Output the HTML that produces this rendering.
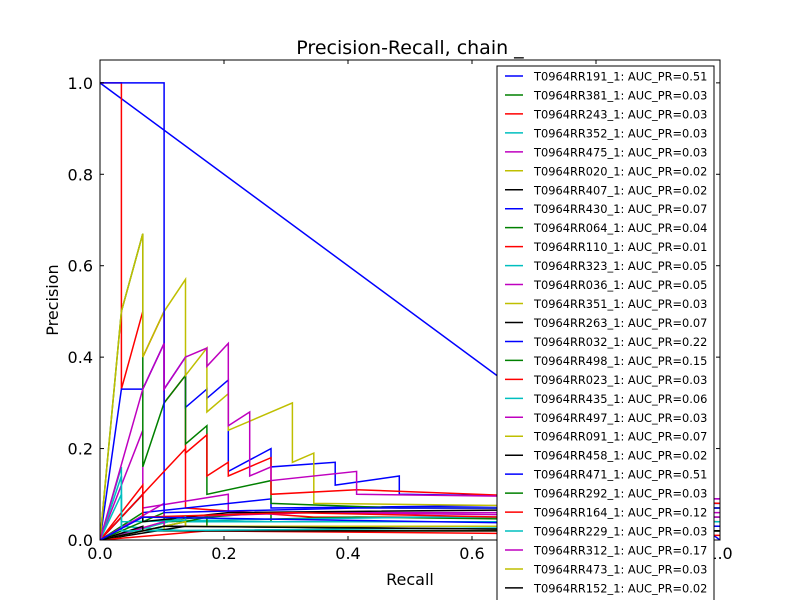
<!DOCTYPE html>
<html><head><meta charset="utf-8"><style>
body{margin:0;background:#fff;}
svg{font-family:"DejaVu Sans","Liberation Sans",sans-serif;}
</style></head><body>
<svg id="chart" width="800" height="600" viewBox="0 0 800 600" xmlns="http://www.w3.org/2000/svg">
<rect x="0" y="0" width="800" height="600" fill="#fff"/>
<text x="410" y="54" font-size="19" text-anchor="middle">Precision-Recall, chain _</text>
<defs><clipPath id="pc"><rect x="100" y="60" width="620" height="480"/></clipPath></defs>
<g id="series" clip-path="url(#pc)"></g>
<rect x="100" y="60" width="620" height="480" fill="none" stroke="#000" stroke-width="1"/>
<g id="axes"></g>
<text x="410" y="585" font-size="16" text-anchor="middle">Recall</text>
<text x="58" y="300" font-size="16" text-anchor="middle" transform="rotate(-90 58 300)">Precision</text>
<g id="legend"></g>
</svg>
<script>
const names=["T0964RR191_1","T0964RR381_1","T0964RR243_1","T0964RR352_1","T0964RR475_1","T0964RR020_1","T0964RR407_1","T0964RR430_1","T0964RR064_1","T0964RR110_1","T0964RR323_1","T0964RR036_1","T0964RR351_1","T0964RR263_1","T0964RR032_1","T0964RR498_1","T0964RR023_1","T0964RR435_1","T0964RR497_1","T0964RR091_1","T0964RR458_1","T0964RR471_1","T0964RR292_1","T0964RR164_1","T0964RR229_1","T0964RR312_1","T0964RR473_1","T0964RR152_1","T0964RR091_1"];
const aucs=["0.51","0.03","0.03","0.03","0.03","0.02","0.02","0.07","0.04","0.01","0.05","0.05","0.03","0.07","0.22","0.15","0.03","0.06","0.03","0.07","0.02","0.51","0.03","0.12","0.03","0.17","0.03","0.02","0.03"];
const palette=["#0000ff","#008000","#ff0000","#00bfbf","#bf00bf","#bfbf00","#000000"];
// points: [recall index (of 29), precision]
const s0=[[0,1],[29,0]];
const s1=[[0,0],[2,0.06],[2,0.04],[8,0.06],[8,0.04],[29,0.04]];
const s2=[[0,1],[1,1],[1,0.33],[2,0.5],[2,0.4],[3,0.5],[3,0.3],[4,0.36],[4,0.07],[10,0.05],[29,0.05]];
const s3=[[0,0],[1,0.16],[1,0.03],[4,0.02],[29,0.02]];
const s4=[[0,0],[2,0.24],[2,0.07],[6,0.1],[6,0.06],[29,0.06]];
const s5=[[0,0],[3,0.04],[3,0.02],[29,0.02]];
const s6=[[0,0],[4,0.03],[29,0.02]];
const s7=[[0,0],[2,0.1],[2,0.06],[8,0.09],[8,0.07],[29,0.08]];
const s8=[[0,0],[3,0.06],[3,0.04],[12,0.05],[29,0.04]];
const s9=[[0,0],[5,0.02],[29,0.01]];
const s10=[[0,0],[1,0.14],[1,0.04],[15,0.05],[29,0.05]];
const s11=[[0,0],[3,0.08],[3,0.05],[10,0.06],[29,0.05]];
const s12=[[0,0],[4,0.05],[4,0.03],[29,0.03]];
const s13=[[0,0],[2,0.1],[2,0.04],[6,0.06],[29,0.07]];
const s14=[[0,0],[1,0.33],[2,0.33],[3,0.43],[3,0.33],[4,0.4],[4,0.29],[5,0.33],[5,0.31],[6,0.35],[6,0.15],[8,0.2],[8,0.16],[11,0.17],[11,0.12],[14,0.14],[14,0.1],[29,0.09]];
const s15=[[0,0],[1,0.5],[2,0.67],[2,0.16],[3,0.3],[4,0.36],[4,0.21],[5,0.25],[5,0.1],[8,0.13],[8,0.08],[14,0.07],[29,0.07]];
const s16=[[0,0],[2,0.12],[2,0.05],[9,0.06],[29,0.04]];
const s17=[[0,0],[4,0.05],[4,0.04],[29,0.04]];
const s18=[[0,0],[3,0.04],[3,0.03],[29,0.03]];
const s19=[[0,0],[1,0.5],[2,0.67],[2,0.4],[3,0.5],[4,0.57],[4,0.36],[5,0.42],[5,0.28],[6,0.32],[6,0.24],[9,0.3],[9,0.17],[10,0.19],[10,0.08],[29,0.07]];
const s20=[[0,0],[2,0.03],[2,0.02],[29,0.02]];
const s21=[[0,1],[3,1],[3,0.5],[3,0.06],[12,0.07],[29,0.07]];
const s22=[[0,0],[5,0.05],[5,0.03],[29,0.03]];
const s23=[[0,0],[3,0.15],[4,0.2],[4,0.19],[5,0.23],[5,0.14],[6,0.17],[6,0.14],[8,0.18],[8,0.1],[12,0.11],[29,0.08]];
const s24=[[0,0],[1,0.1],[1,0.02],[29,0.03]];
const s25=[[0,0],[2,0.33],[3,0.43],[3,0.33],[4,0.4],[5,0.42],[5,0.38],[6,0.43],[6,0.25],[7,0.28],[7,0.14],[8,0.16],[8,0.13],[12,0.15],[12,0.1],[29,0.09]];
const s26=[[0,0],[4,0.04],[4,0.03],[29,0.03]];
const s27=[[0,0],[3,0.03],[29,0.02]];
const s28=[[0,0],[2,0.05],[29,0.03]];
const seriesData=[s0,s1,s2,s3,s4,s5,s6,s7,s8,s9,s10,s11,s12,s13,s14,s15,s16,s17,s18,s19,s20,s21,s22,s23,s24,s25,s26,s27,s28];
const xTicks=[0,0.2,0.4,0.6,0.8,1.0];
const yTicks=[0,0.2,0.4,0.6,0.8,1.0];
const NS="http://www.w3.org/2000/svg";
const X0=100,X1=720,Y0=540,YTOP=60,YMAX=1.05;
const xs=v=>X0+v*(X1-X0);
const ys=v=>Y0-v/YMAX*(Y0-YTOP);
function mk(t,a){const e=document.createElementNS(NS,t);for(const k in a)e.setAttribute(k,a[k]);return e;}
const sg=document.getElementById('series');
for(let i=0;i<seriesData.length;i++){
  const pts=seriesData[i].map(p=>xs(p[0]/29).toFixed(1)+","+ys(p[1]).toFixed(1)).join(" ");
  const pl=mk('polyline',{points:pts,fill:"none",stroke:palette[i%7],"stroke-width":1.5});
  
  
  sg.appendChild(pl);
}
const ax=document.getElementById('axes');
xTicks.forEach(t=>{
  const x=xs(t);
  ax.appendChild(mk('line',{x1:x,x2:x,y1:Y0,y2:Y0-4,stroke:"#000"}));
  ax.appendChild(mk('line',{x1:x,x2:x,y1:YTOP,y2:YTOP+4,stroke:"#000"}));
  const tx=mk('text',{x:x,y:Y0+19,"font-size":16,"text-anchor":"middle"});
  tx.textContent=t.toFixed(1);
  
  
  ax.appendChild(tx);
});
yTicks.forEach(t=>{
  const y=ys(t);
  ax.appendChild(mk('line',{x1:X0,x2:X0+4,y1:y,y2:y,stroke:"#000"}));
  ax.appendChild(mk('line',{x1:X1,x2:X1-4,y1:y,y2:y,stroke:"#000"}));
  const tx=mk('text',{x:X0-7,y:y+6,"font-size":16,"text-anchor":"end"});
  tx.textContent=t.toFixed(1);
  
  
  ax.appendChild(tx);
});
const lg=document.getElementById('legend');
const box=mk('rect',{x:497,y:66,width:217,height:560,fill:"#fff",stroke:"#000"});


lg.appendChild(box);
names.forEach((n,i)=>{
  const y=76+i*18.96;
  const g=mk('g',{});
  
  
  g.appendChild(mk('line',{x1:505,x2:523,y1:y,y2:y,stroke:palette[i%7],"stroke-width":1.5}));
  const tx=mk('text',{x:534,y:y+4.5,"font-size":11.4});
  tx.textContent=n+": AUC_PR="+aucs[i];
  g.appendChild(tx);
  lg.appendChild(g);
});
</script>
</body></html>
